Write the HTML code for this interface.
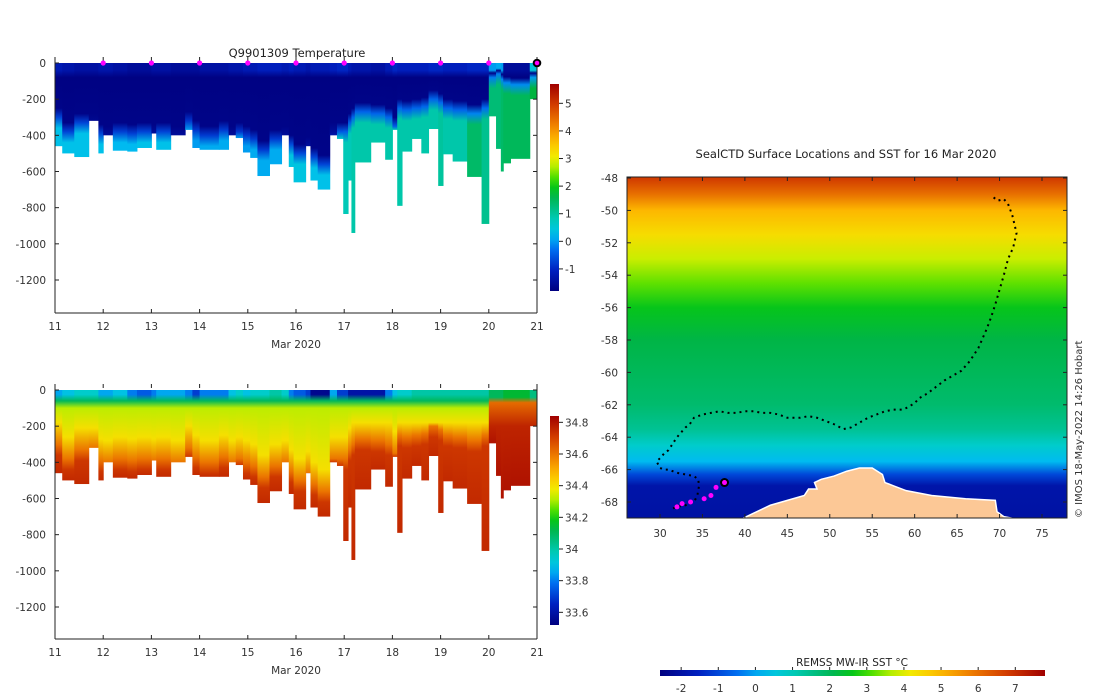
<!DOCTYPE html>
<html><head><meta charset="utf-8">
<style>
body{margin:0;background:#fff;}
svg{display:block;font-family:"DejaVu Sans","Liberation Sans",sans-serif;}
text{fill:#333;font-size:10.5px;}
</style></head>
<body>
<svg id="fig" width="1100" height="696" viewBox="0 0 1100 696">
<defs id="defs"></defs>
<text x="297" y="57" text-anchor="middle" style="font-size:11.5px;fill:#222">Q9901309  Temperature</text>
<text x="846" y="158" text-anchor="middle" style="font-size:11.5px;fill:#222">SealCTD Surface Locations and SST for 16 Mar 2020</text>
<text x="852" y="666" text-anchor="middle" style="font-size:10.5px;fill:#222">REMSS MW-IR SST °C</text>
<text transform="translate(1082,518) rotate(-90)" style="font-size:10px;fill:#333">© IMOS 18-May-2022 14:26 Hobart</text>
<g id="tempPanel"></g>
<g id="salPanel"></g>
<g id="mapPanel"></g>
</svg>
<script>
// ---- profile data ----
const profStart = [11.0,11.15,11.4,11.7,11.9,12.0,12.2,12.5,12.7,13.0,13.1,13.4,13.7,13.85,14.0,14.4,14.6,14.75,14.9,15.05,15.2,15.45,15.7,15.85,15.95,16.2,16.3,16.45,16.7,16.85,16.98,17.08,17.15,17.22,17.55,17.85,18.0,18.1,18.2,18.4,18.6,18.75,18.95,19.05,19.25,19.55,19.85,20.0,20.15,20.25,20.3,20.45,20.85];
const profEnd = 21.0;
const maxDepth = [460,500,520,320,500,400,485,490,470,390,480,400,370,470,480,480,400,415,495,525,625,560,400,575,660,460,650,700,400,420,835,650,940,550,440,535,370,790,490,420,500,365,680,505,545,630,890,295,475,600,555,530,200];
const coldBottom = [300,380,330,330,390,400,380,390,380,390,380,400,320,370,400,370,400,380,400,420,480,420,400,450,500,460,520,560,380,380,380,330,300,270,280,300,350,250,260,250,240,200,220,250,260,280,250,80,60,90,110,120,80];
const deepTemp = [0.3,0.3,0.3,-1.5,0.3,-1.3,0.2,0.2,0.3,-1.3,0.3,-1.3,0.0,0.0,0.1,0.1,-1.3,0.0,0.0,0.1,0.1,0.1,-1.3,0.4,0.4,-1.2,0.3,0.3,-1.3,0.7,0.8,0.8,0.9,0.9,0.9,0.9,0.8,0.9,0.9,0.9,0.9,0.9,1.0,0.9,0.9,1.4,1.1,1.3,1.3,1.4,1.5,1.5,1.7];
const surfTemp = [-1.2,-1.3,-1.4,-1.4,-1.3,-1.3,-1.4,-1.5,-1.5,-1.4,-1.4,-1.5,-1.5,-1.5,-1.4,-1.4,-1.3,-1.3,-1.2,-1.2,-1.1,-1.1,-1.2,-1.1,-1.2,-1.3,-1.2,-1.2,-1.1,-1.0,-1.0,-1.2,-1.3,-1.3,-1.4,-1.2,-1.0,-1.1,-1.1,-1.1,-1.1,-1.0,-1.0,-1.1,-1.1,-1.0,-1.0,0.0,0.1,0.0,-1.5,-1.5,0.5];
const surfSal = [33.85,33.9,33.95,33.95,33.85,33.85,33.9,33.8,33.75,33.8,33.85,33.85,33.8,33.7,33.8,33.8,33.9,33.95,33.9,33.95,33.95,34.0,33.95,33.8,33.75,33.7,33.55,33.55,33.85,33.7,33.7,33.6,33.6,33.6,33.6,33.8,33.9,33.95,33.95,34.0,34.0,34.0,34.0,34.0,34.0,34.0,34.0,34.1,34.1,34.1,34.15,34.15,34.05];
const dayTicks = [11,12,13,14,15,16,17,18,19,20,21];
const depthTicks = [0,-200,-400,-600,-800,-1000,-1200];
const tempCbTicks = [-1,0,1,2,3,4,5];
const salCbTicks = [33.6,33.8,34.0,34.2,34.4,34.6,34.8];
const salCbLabels = ["33.6","33.8","34","34.2","34.4","34.6","34.8"];
const sstTicks = [-2,-1,0,1,2,3,4,5,6,7];
// ---- map data ----
const lonTicks = [30,35,40,45,50,55,60,65,70,75];
const latTicks = [-48,-50,-52,-54,-56,-58,-60,-62,-64,-66,-68];
const sstLat = [-48,-49,-50,-51.5,-53,-54.5,-56,-58,-60,-62,-63.5,-64.5,-65.5,-66.3,-67,-69];
const sstVal = [6.8,6.0,5.0,4.4,3.8,3.2,2.6,2.2,2.0,1.8,1.4,0.8,0.2,-1.0,-1.9,-2.0];
const trackLon = [69.3,69.8,70.5,71.0,71.5,72.0,71.6,71.0,70.5,70.0,69.5,69.0,68.5,68.0,67.5,66.5,65.5,64.5,63.5,62.5,61.5,60.5,60.0,59.0,58.5,57.5,56.5,55.5,54.5,53.5,52.5,51.6,50.5,49.5,48.5,47.5,46.5,45,44,43,42,41,40,39,38,37,36,35,34,33.5,33,32.5,32,31.5,31,30.5,30,29.6,30,30.5,31,32,33,34,34.5,34.6,34.4,34,33.5,33,32,31.5];
const trackLat = [-49.2,-49.4,-49.3,-49.6,-50.3,-51.4,-52.3,-53.0,-54.0,-54.9,-55.8,-56.6,-57.3,-57.9,-58.5,-59.3,-59.9,-60.2,-60.5,-60.9,-61.3,-61.6,-61.9,-62.2,-62.3,-62.3,-62.4,-62.6,-62.8,-63.1,-63.4,-63.5,-63.2,-63.0,-62.8,-62.7,-62.8,-62.8,-62.6,-62.5,-62.5,-62.4,-62.4,-62.5,-62.5,-62.4,-62.5,-62.6,-62.8,-63.2,-63.4,-63.7,-64.0,-64.4,-64.8,-65.0,-65.3,-65.5,-65.9,-66.0,-66.0,-66.2,-66.3,-66.4,-66.6,-67.0,-67.6,-68.0,-68.1,-68.2,-68.3,-68.4];
const recentLon = [32.0,32.6,33.6,35.2,36.0,36.6];
const recentLat = [-68.3,-68.1,-68.0,-67.8,-67.6,-67.1];
const lastLon = 37.6, lastLat = -66.8;
const landLon = [39.8,41,43,45,47,47.5,48.5,48.2,49,50.5,52,53.5,55,56.2,56.5,57.5,59,62,66,69.5,69.7,70.5,71.5,39.8];
const landLat = [-69,-68.7,-68.2,-67.9,-67.6,-67.2,-67.2,-66.8,-66.6,-66.4,-66.1,-65.9,-65.9,-66.3,-66.8,-67.0,-67.3,-67.6,-67.8,-67.9,-68.6,-68.9,-69,-69];

const NS="http://www.w3.org/2000/svg";
function mk(tag,attrs,parent){const e=document.createElementNS(NS,tag);for(const k in attrs)e.setAttribute(k,attrs[k]);parent.appendChild(e);return e;}
const defs=document.getElementById('defs');
const cmStops=[[0,[0,0,127]],[0.1,[0,32,192]],[0.2,[0,110,240]],[0.27,[0,190,240]],[0.33,[0,205,200]],[0.4,[0,190,130]],[0.47,[0,180,60]],[0.52,[10,210,0]],[0.58,[150,235,0]],[0.64,[240,240,0]],[0.72,[255,190,0]],[0.8,[240,130,0]],[0.9,[210,60,0]],[1,[160,0,0]]];
function cmap(t){t=Math.max(0,Math.min(1,t));for(let i=1;i<cmStops.length;i++){if(t<=cmStops[i][0]){const a=cmStops[i-1],b=cmStops[i];const f=(t-a[0])/(b[0]-a[0]);const c=a[1].map((v,j)=>Math.round(v+(b[1][j]-v)*f));return `rgb(${c[0]},${c[1]},${c[2]})`;}}return 'rgb(160,0,0)';}
let gid=0;
function vgrad(stops){const id='g'+(gid++);const g=mk('linearGradient',{id,x1:0,y1:0,x2:0,y2:1},defs);stops.forEach(s=>mk('stop',{offset:s[0],'stop-color':s[1]},g));return `url(#${id})`;}

function depthPanel(gEl,y0,yBot,cbY0,cbY1,vmin,vmax,profileFn,cbTicks,cbLabels,isTemp){
  const x0=55,x1=537;
  const xs=d=>x0+(d-11)*(x1-x0)/10;
  const ys=z=>y0+z*(217/1200);
  for(let i=0;i<profStart.length;i++){
    const t0=profStart[i],t1=(i+1<profStart.length?profStart[i+1]:profEnd);
    const md=maxDepth[i];
    const pts=profileFn(i);
    const stops=pts.map(p=>[Math.min(1,p[0]/md),cmap((p[1]-vmin)/(vmax-vmin))]);
    const r=mk('rect',{x:xs(t0),y:ys(0),width:xs(t1)-xs(t0)+0.5,height:ys(md)-ys(0),fill:vgrad(stops)},gEl);
    
    
  }
  mk('line',{x1:x0,y1:y0-6,x2:x0,y2:yBot,stroke:'#222','stroke-width':1},gEl);
  mk('line',{x1:x0,y1:yBot,x2:x1,y2:yBot,stroke:'#222','stroke-width':1},gEl);
  mk('line',{x1:x1,y1:y0-6,x2:x1,y2:yBot,stroke:'#222','stroke-width':1},gEl);
  dayTicks.forEach(d=>{
    mk('line',{x1:xs(d),y1:yBot,x2:xs(d),y2:yBot-4,stroke:'#222'},gEl);
    mk('line',{x1:xs(d),y1:y0-6,x2:xs(d),y2:y0-2,stroke:'#222'},gEl);
    const t=mk('text',{x:xs(d),y:yBot+17,'text-anchor':'middle'},gEl);t.textContent=d;
    
    
  });
  depthTicks.forEach(z=>{
    mk('line',{x1:x0,y1:ys(-z),x2:x0+4,y2:ys(-z),stroke:'#222'},gEl);
    mk('line',{x1:x1,y1:ys(-z),x2:x1-4,y2:ys(-z),stroke:'#222'},gEl);
    const t=mk('text',{x:x0-9,y:ys(-z)+4,'text-anchor':'end'},gEl);t.textContent=z;
    
    
  });
  const xl=mk('text',{x:296,y:yBot+35,'text-anchor':'middle'},gEl);xl.textContent='Mar 2020';
  
  
  const cs=[];for(let k=0;k<=20;k++)cs.push([k/20,cmap(1-k/20)]);
  const cb=mk('rect',{x:550,y:cbY0,width:9,height:cbY1-cbY0,fill:vgrad(cs)},gEl);
  
  
  const cy=v=>cbY1-(v-vmin)/(vmax-vmin)*(cbY1-cbY0);
  cbTicks.forEach((v,k)=>{
    mk('line',{x1:559,y1:cy(v),x2:563,y2:cy(v),stroke:'#222'},gEl);
    const t=mk('text',{x:565,y:cy(v)+4},gEl);t.textContent=cbLabels[k];
    
    
  });
  if(isTemp){
    for(let d=12;d<=20;d++){
      const c=mk('circle',{cx:xs(d),cy:y0,r:2.6,fill:'#ff00ff'},gEl);
      
      
    }
    const c=mk('circle',{cx:xs(21),cy:y0,r:3.3,fill:'#ff00ff',stroke:'#000','stroke-width':2},gEl);
    
    
  }
}
const tempProfile=i=>{const cb=coldBottom[i],dt=deepTemp[i],st=surfTemp[i];
  return [[0,st],[Math.min(40,cb*0.5),st],[Math.min(80,cb*0.7),-1.75],[Math.max(cb-50,cb*0.7),-1.7],[cb,(dt-1.7)/2],[cb+60,dt],[5000,dt]];};
const salProfile=i=>{const cb=coldBottom[i],ss=surfSal[i];const late=profStart[i]>=20;
  return late?[[0,ss],[40,ss],[70,34.62],[200,34.76],[5000,34.8]]:[[0,ss],[25,ss],[60,34.1],[100,34.32],[Math.max(180,cb-120),34.4],[cb,34.6],[cb+60,34.72],[5000,34.75]];};
depthPanel(document.getElementById('tempPanel'),63,313,84,291,-1.8,5.7,tempProfile,tempCbTicks,tempCbTicks.map(String),true);
depthPanel(document.getElementById('salPanel'),390,639,416,625,33.52,34.84,salProfile,salCbTicks,salCbLabels,false);

(function(){
  const g=document.getElementById('mapPanel');
  const X0=627,X1=1067,Y0=177,Y1=518;
  const lx=lon=>660+(lon-30)*(1042-660)/45;
  const ly=lat=>178+(-48-lat)*(502-178)/20;
  const smin=-2.57,smax=7.8;
  const stops=sstLat.map((la,k)=>[Math.max(0,Math.min(1,(ly(la)-Y0)/(Y1-Y0))),cmap((sstVal[k]-smin)/(smax-smin))]);
  const r=mk('rect',{x:X0,y:Y0,width:X1-X0,height:Y1-Y0,fill:vgrad(stops)},g);
  
  
  const land=mk('polygon',{points:landLon.map((lo,k)=>lx(lo)+','+ly(landLat[k])).join(' '),fill:'#fcc896',stroke:'#fff','stroke-width':1.5},g);
  
  
  const trk=mk('polyline',{points:trackLon.map((lo,k)=>lx(lo)+','+ly(trackLat[k])).join(' '),fill:'none',stroke:'#000','stroke-width':2,'stroke-dasharray':'2 4'},g);
  
  
  recentLon.forEach((lo,k)=>{const c=mk('circle',{cx:lx(lo),cy:ly(recentLat[k]),r:2.5,fill:'#ff00ff'},g);
    
    });
  const lc=mk('circle',{cx:lx(lastLon),cy:ly(lastLat),r:3.5,fill:'#ff00ff',stroke:'#000','stroke-width':2},g);
  
  
  mk('rect',{x:X0,y:Y0,width:X1-X0,height:Y1-Y0,fill:'none',stroke:'#222'},g);
  lonTicks.forEach(lo=>{
    mk('line',{x1:lx(lo),y1:Y1,x2:lx(lo),y2:Y1-4,stroke:'#222'},g);
    mk('line',{x1:lx(lo),y1:Y0,x2:lx(lo),y2:Y0+4,stroke:'#222'},g);
    const t=mk('text',{x:lx(lo),y:Y1+19,'text-anchor':'middle'},g);t.textContent=lo;
    
    
  });
  latTicks.forEach(la=>{
    mk('line',{x1:X0,y1:ly(la),x2:X0+4,y2:ly(la),stroke:'#222'},g);
    mk('line',{x1:X1,y1:ly(la),x2:X1-4,y2:ly(la),stroke:'#222'},g);
    const t=mk('text',{x:X0-9,y:ly(la)+4,'text-anchor':'end'},g);t.textContent=la;
    
    
  });
  const bx0=660,bx1=1045;const bxs=v=>bx0+(v-smin)/(smax-smin)*(bx1-bx0);
  const id='g'+(gid++);const lg=mk('linearGradient',{id,x1:0,y1:0,x2:1,y2:0},defs);
  for(let k=0;k<=20;k++)mk('stop',{offset:k/20,'stop-color':cmap(k/20)},lg);
  const cb=mk('rect',{x:bx0,y:670,width:bx1-bx0,height:6,fill:`url(#${id})`},g);
  
  
  sstTicks.forEach(v=>{
    mk('line',{x1:bxs(v),y1:667,x2:bxs(v),y2:670,stroke:'#222'},g);
    const t=mk('text',{x:bxs(v),y:692,'text-anchor':'middle'},g);t.textContent=v;
    
    
  });
})();
</script>
</body></html>
